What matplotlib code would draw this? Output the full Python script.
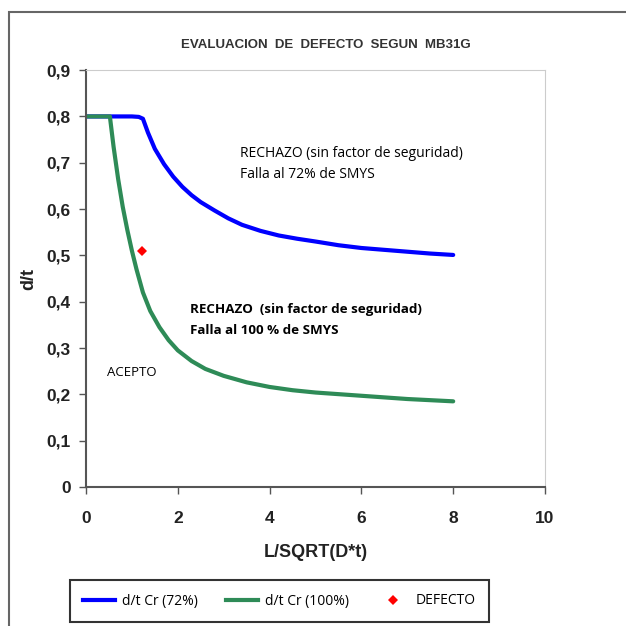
import matplotlib
matplotlib.use('Agg')
import matplotlib.pyplot as plt
from matplotlib.patches import Rectangle
from matplotlib.lines import Line2D

# curva d/t critica 72% SMYS
x_72 = [0, 0.5, 1.0, 1.15, 1.24, 1.35, 1.5, 1.7, 1.9, 2.1, 2.3, 2.5, 2.8, 3.1, 3.4, 3.8, 4.2, 4.6, 5.0, 5.5, 6.0, 6.5, 7.0, 7.5, 8.0]
y_72 = [0.8, 0.8, 0.8, 0.799, 0.795, 0.765, 0.73, 0.697, 0.67, 0.648, 0.63, 0.615, 0.597, 0.58, 0.566, 0.553, 0.543, 0.536, 0.53, 0.522, 0.516, 0.512, 0.508, 0.504, 0.501]

# curva d/t critica 100% SMYS
x_100 = [0, 0.3, 0.52, 0.6, 0.7, 0.8, 0.9, 1.0, 1.1, 1.24, 1.4, 1.6, 1.8, 2.0, 2.3, 2.6, 3.0, 3.5, 4.0, 4.5, 5.0, 6.0, 7.0, 8.0]
y_100 = [0.8, 0.8, 0.8, 0.735, 0.665, 0.605, 0.555, 0.51, 0.47, 0.42, 0.38, 0.345, 0.317, 0.295, 0.272, 0.255, 0.24, 0.226, 0.216, 0.209, 0.204, 0.197, 0.19, 0.185]

defecto_x = [1.22]
defecto_y = [0.51]

xticks = [0, 2, 4, 6, 8, 10]
yticks = [0, 0.1, 0.2, 0.3, 0.4, 0.5, 0.6, 0.7, 0.8, 0.9]
ytick_labels = ['0', '0,1', '0,2', '0,3', '0,4', '0,5', '0,6', '0,7', '0,8', '0,9']

fig = plt.figure(figsize=(6.26, 6.26), dpi=100)
ax = fig.add_axes([0.1374, 0.222, 0.7332, 0.666])

ax.plot(x_72, y_72, color='#0000ff', lw=3, label='d/t Cr (72%)', solid_capstyle='round', solid_joinstyle='round')
ax.plot(x_100, y_100, color='#2e8b57', lw=3, label='d/t Cr (100%)', solid_capstyle='round', solid_joinstyle='round')
ax.plot(defecto_x, defecto_y, 'D', color='red', ms=5, mew=0, label='DEFECTO')

ax.set_xlim(0, 10)
ax.set_ylim(0, 0.9)
ax.set_xticks(xticks)
ax.set_xticklabels([str(v) for v in xticks])
ax.set_yticks(yticks)
ax.set_yticklabels(ytick_labels)
for lab in ax.get_xticklabels() + ax.get_yticklabels():
    lab.set_fontweight('bold')
    lab.set_fontsize(12.5)
    lab.set_family('Liberation Sans')
    lab.set_color('#222222')
ax.tick_params(axis='both', direction='out', length=5, width=1, color='#555555')
ax.tick_params(axis='x', pad=12)
ax.tick_params(axis='y', pad=6)

ax.spines['left'].set_color('#555555')
ax.spines['bottom'].set_color('#555555')
ax.spines['left'].set_linewidth(1.5)
ax.spines['bottom'].set_linewidth(1.5)
ax.spines['right'].set_color('#cccccc')
ax.spines['top'].set_color('#cccccc')

ax.set_xlabel('L/SQRT(D*t)', fontsize=13, fontweight='bold', color='#222222', family='Liberation Sans')
ax.set_ylabel('d/t', fontsize=13, fontweight='bold', color='#222222', family='Liberation Sans')
ax.xaxis.set_label_coords(0.5, -0.158)
ax.yaxis.set_label_coords(-0.124, 0.5)
ax.xaxis.label.set_va('center')
ax.yaxis.label.set_va('center')

fig.text(0.52, 0.928, 'EVALUACION  DE  DEFECTO  SEGUN  MB31G', ha='center', va='center',
         fontsize=9.5, fontweight='bold', color='#333333', family='Liberation Sans')

ax.text(3.35, 0.72, 'RECHAZO (sin factor de seguridad)', fontsize=10, family='Open Sans', va='center')
ax.text(3.35, 0.675, 'Falla al 72% de SMYS', fontsize=10, family='Open Sans', va='center')
ax.text(2.27, 0.383, 'RECHAZO  (sin factor de seguridad)', fontsize=9.6, family='Open Sans',
        fontweight='bold', va='center')
ax.text(2.27, 0.337, 'Falla al 100 % de SMYS', fontsize=9.6, family='Open Sans',
        fontweight='bold', va='center')
ax.text(0.45, 0.248, 'ACEPTO', fontsize=9.5, family='Open Sans', va='center')

# marco exterior
fig.patches.append(Rectangle((9 / 626, -0.05), 1.2, 1 - 12 / 626 + 0.05, transform=fig.transFigure,
                             fill=False, edgecolor='#666666', lw=1.5))

handles = [Line2D([], [], color='#0000ff', lw=3),
           Line2D([], [], color='#2e8b57', lw=3),
           Line2D([], [], marker='D', color='red', ls='none', ms=5, mew=0)]
leg = fig.legend(handles, ['d/t Cr (72%)', 'd/t Cr (100%)', 'DEFECTO'], ncol=3,
                 loc='center', bbox_to_anchor=(279.5 / 626, 1 - 601 / 626),
                 frameon=True, fancybox=False, edgecolor='black',
                 prop={'family': 'Open Sans', 'size': 10},
                 handlelength=2.3, columnspacing=2.0, borderpad=1.0, handletextpad=0.5)
leg.get_frame().set_linewidth(1.5)

fig.savefig('out.png', dpi=100)
